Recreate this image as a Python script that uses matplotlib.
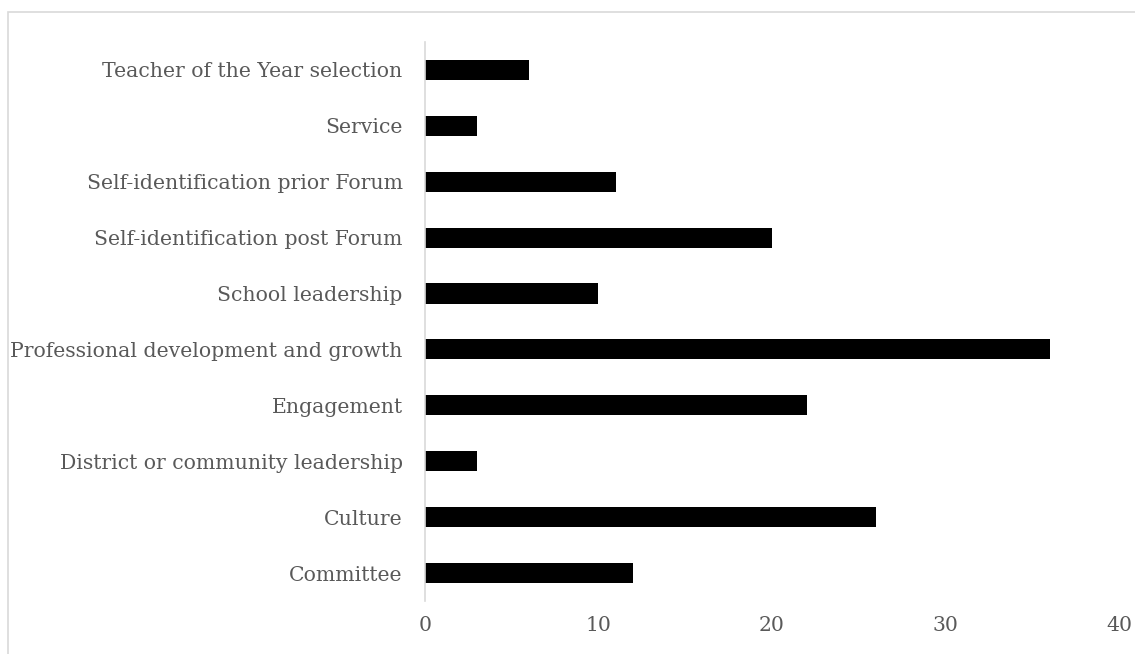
import matplotlib
matplotlib.use("Agg")
import matplotlib.pyplot as plt
from matplotlib.patches import Rectangle

categories = ['Committee', 'Culture', 'District or community leadership', 'Engagement',
              'Professional development and growth', 'School leadership',
              'Self-identification post Forum', 'Self-identification prior Forum',
              'Service', 'Teacher of the Year selection']
counts = [12, 26, 3, 22, 36, 10, 20, 11, 3, 6]
x_ticks = [0, 10, 20, 30, 40]

plt.rcParams['font.family'] = ['DejaVu Serif']

fig = plt.figure(figsize=(11.35, 6.54), dpi=100)
ax = fig.add_axes([0.3744, 0.081, 0.6115, 0.855])

ax.barh(range(len(categories)), counts, height=0.36, color='black')
ax.set_ylim(-0.5, len(categories) - 0.5)
ax.set_xlim(0, 40)
ax.set_xticks(x_ticks)
ax.set_yticks(range(len(categories)))
ax.set_yticklabels(categories)

for s in ['top', 'right', 'bottom']:
    ax.spines[s].set_visible(False)
ax.spines['left'].set_color('#d9d9d9')
ax.spines['left'].set_linewidth(1.2)
ax.tick_params(axis='both', length=0, labelsize=14.7, colors='#595959')
ax.tick_params(axis='x', pad=11)
ax.tick_params(axis='y', pad=16)

# outer chart border (cropped at right/bottom)
fig.patches.append(Rectangle((8 / 1135, -0.1), 1.2, 1 - 12 / 654 + 0.1,
                             transform=fig.transFigure, fill=False,
                             edgecolor='#d9d9d9', linewidth=1.2))

fig.savefig('out.png', dpi=100)
